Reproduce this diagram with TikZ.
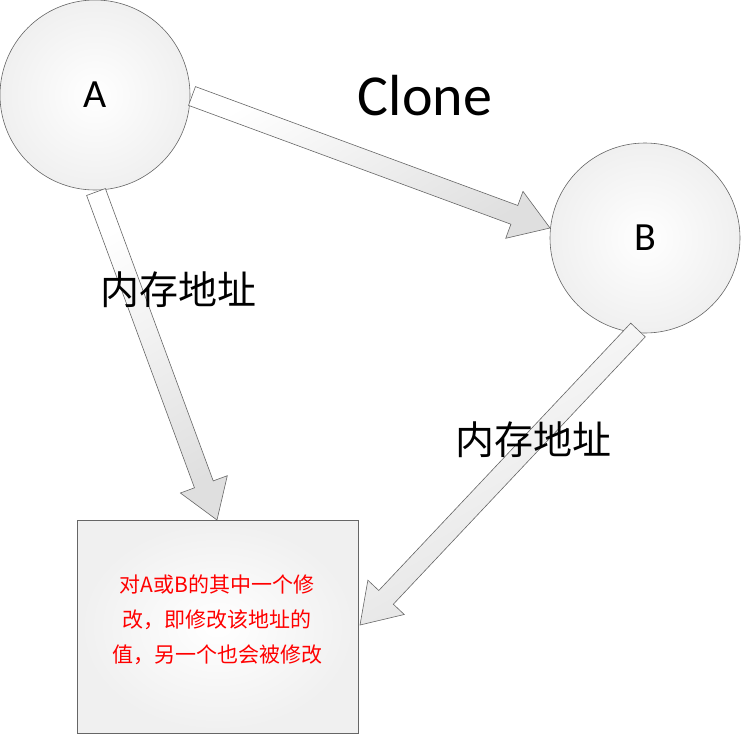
\documentclass[tikz,border=0pt]{standalone}
\usepackage{fontspec}
\setmainfont{Carlito}
\newfontfamily\cjk{Noto Sans CJK SC}
\usetikzlibrary{calc}
\tikzset{
  shp/.style={draw=gray!80!black, line width=0.6pt, shading=radial, inner color=white, outer color=gray!12},
  arw/.style={draw=gray!80!black, line width=0.6pt, top color=white, bottom color=gray!25, shading angle=30},
}
\newcommand\fatarrow[3]{% from, to, name prefix
  \coordinate (#3h) at ($(#2)!38pt!(#1)$);
  \path[arw] ($(#1)!10pt!90:(#2)$) -- ($(#3h)!10pt!90:(#2)$) -- ($(#3h)!25pt!90:(#2)$) -- (#2)
    -- ($(#3h)!25pt!-90:(#2)$) -- ($(#3h)!10pt!-90:(#2)$) -- ($(#1)!10pt!-90:(#2)$) -- cycle;
}
\begin{document}
\begin{tikzpicture}[x=1pt,y=-1pt]
\useasboundingbox (0,0) rectangle (741,736);
\node[shp, circle, minimum size=190pt, inner sep=0, font=\fontsize{40}{48}\selectfont] (A) at (95,95) {A};
\node[shp, circle, minimum size=190pt, inner sep=0, font=\fontsize{40}{48}\selectfont] (B) at (645,238) {B};
\node[shp, rectangle, minimum width=281pt, minimum height=213pt, inner sep=0] (box) at (217.5,626.5) {};
\coordinate (a1) at (192,96);
\coordinate (b1) at (550,228);
\fatarrow{a1}{b1}{p}
\coordinate (a2) at (96,192);
\coordinate (c2) at (217,520);
\fatarrow{a2}{c2}{q}
\coordinate (b2) at (638,330);
\coordinate (c3) at (360,625);
\fatarrow{b2}{c3}{r}
\node[text=red, align=center, font=\fontsize{21}{35}\cjk] (txt) at (217,620) {对A或B的其中一个修\\改，即修改该地址的\\值，另一个也会被修改};
\node[font=\fontsize{58}{68}\selectfont] (clone) at (425,96) {Clone};
\node[font=\fontsize{39}{46}\cjk] (m1) at (178,290) {内存地址};
\node[font=\fontsize{39}{46}\cjk] (m2) at (533,440) {内存地址};
\end{tikzpicture}
\end{document}
